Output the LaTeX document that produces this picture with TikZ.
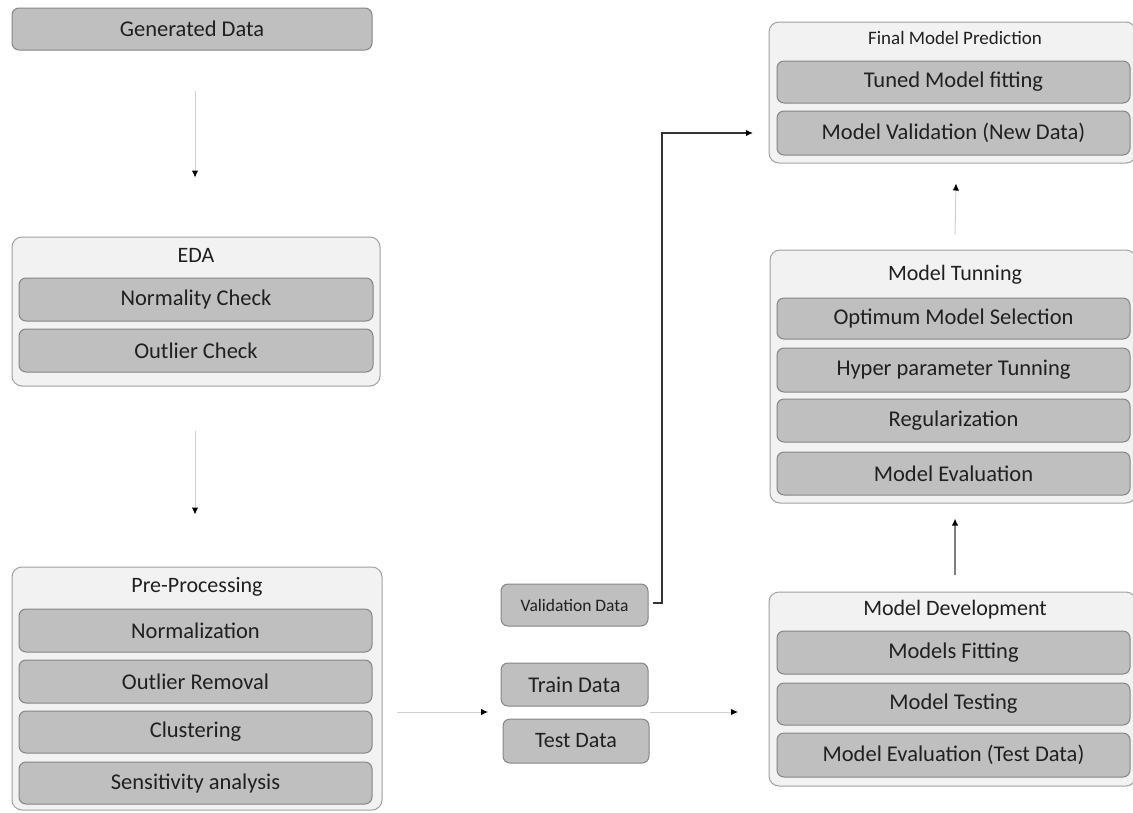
\documentclass[tikz,border=0pt]{standalone}
\usepackage{fontspec}
\setmainfont{Carlito}
\usetikzlibrary{arrows.meta,calc}
\definecolor{panelfill}{HTML}{F2F2F2}
\definecolor{panelline}{HTML}{A0A0A0}
\definecolor{stepfill}{HTML}{BFBFBF}
\definecolor{stepline}{HTML}{858585}
\definecolor{inkgray}{HTML}{202020}
\definecolor{faint}{HTML}{D0D0D0}
\tikzset{
  panel/.style={draw=panelline, fill=panelfill, line width=1pt, rounded corners=10pt, inner sep=0pt},
  stepbox/.style={draw=stepline, fill=stepfill, line width=1pt, rounded corners=7pt, inner sep=0pt,
    text=inkgray, font=\fontsize{22.5}{26}\selectfont},
  title/.style={text=inkgray, font=\fontsize{22}{26}\selectfont, inner sep=0pt},
  tip/.style={-{Latex[length=7pt,width=6.5pt,black]}},
  thinflow/.style={tip, draw=faint, line width=1pt},
  strongflow/.style={tip, draw=black!80, line width=1.4pt},
}
\begin{document}
\begin{tikzpicture}[x=1pt, y=-1pt]
\useasboundingbox (0,0) rectangle (1133,812);

% ---- left column ----
\node[stepbox, minimum width=360pt, minimum height=42pt] (gen) at (192,29) {Generated Data};

\node[panel, minimum width=368pt, minimum height=149pt] (eda) at (196,311.5) {};
\node[title] (edat) at (196,255) {EDA};
\node[stepbox, minimum width=354pt, minimum height=43pt] (eda1) at (196,299.5) {Normality Check};
\node[stepbox, minimum width=354pt, minimum height=43pt] (eda2) at (196,350.5) {Outlier Check};

\node[panel, minimum width=370pt, minimum height=243pt] (pre) at (197,688.5) {};
\node[title] (pret) at (197,587) {Pre-Processing};
\node[stepbox, minimum width=353pt, minimum height=43pt] (pre1) at (195.5,630.5) {Normalization};
\node[stepbox, minimum width=353pt, minimum height=43pt] (pre2) at (195.5,681.5) {Outlier Removal};
\node[stepbox, minimum width=353pt, minimum height=42pt] (pre3) at (195.5,732) {Clustering};
\node[stepbox, minimum width=353pt, minimum height=42pt] (pre4) at (195.5,783) {Sensitivity analysis};

% ---- data split ----
\node[stepbox, minimum width=147pt, minimum height=42pt, font=\fontsize{17.5}{20}\selectfont] (val) at (574.5,605) {Validation Data};
\node[stepbox, minimum width=147pt, minimum height=43pt] (train) at (574.5,684.5) {Train Data};
\node[stepbox, minimum width=146pt, minimum height=44pt, font=\fontsize{22}{26}\selectfont] (test) at (576,741) {Test Data};

% ---- right column ----
\node[panel, minimum width=367pt, minimum height=141pt] (fin) at (952.5,92.5) {};
\node[title, font=\fontsize{19}{23}\selectfont] (fint) at (955,38) {Final Model Prediction};
\node[stepbox, minimum width=353pt, minimum height=42pt] (fin1) at (953.5,82) {Tuned Model fitting};
\node[stepbox, minimum width=353pt, minimum height=44pt] (fin2) at (953.5,133) {Model Validation (New Data)};

\node[panel, minimum width=366pt, minimum height=253pt] (tun) at (953,376.5) {};
\node[title] (tunt) at (955,275) {Model Tunning};
\node[stepbox, minimum width=353pt, minimum height=41pt] (tun1) at (953.5,318.5) {Optimum Model Selection};
\node[stepbox, minimum width=353pt, minimum height=44pt] (tun2) at (953.5,370) {Hyper parameter Tunning};
\node[stepbox, minimum width=353pt, minimum height=43pt] (tun3) at (953.5,420.5) {Regularization};
\node[stepbox, minimum width=353pt, minimum height=43pt] (tun4) at (953.5,473.5) {Model Evaluation};

\node[panel, minimum width=367pt, minimum height=194pt] (dev) at (952.5,689) {};
\node[title] (devt) at (955,610) {Model Development};
\node[stepbox, minimum width=353pt, minimum height=43pt] (dev1) at (953.5,652.5) {Models Fitting};
\node[stepbox, minimum width=353pt, minimum height=42pt] (dev2) at (953.5,704) {Model Testing};
\node[stepbox, minimum width=353pt, minimum height=44pt] (dev3) at (953.5,755) {Model Evaluation (Test Data)};

% ---- connector end points ----
\coordinate (genout) at ($(gen.south)+(3,40)$);
\coordinate (edain) at ($(eda.north)+(-1,-59)$);
\coordinate (edaout) at ($(eda.south)+(-1,44)$);
\coordinate (prein) at ($(pre.north)+(-2,-52)$);
\coordinate (preout) at (397,712);
\coordinate (splitin) at (488,712);
\coordinate (splitout) at (650,712);
\coordinate (devin) at (738,712);
\coordinate (valout) at ($(val.east)+(4,-2)$);
\coordinate (finin) at (753,133);
\coordinate (devout) at ($(dev.north)+(2.5,-17)$);
\coordinate (tunin) at ($(tun.south)+(2,15)$);
\coordinate (tunout) at ($(tun.north)+(2,-15)$);
\coordinate (finout) at ($(fin.south)+(3.5,20)$);

% ---- connectors ----
\draw[thinflow] (genout) -- (edain);
\draw[thinflow] (edaout) -- (prein);
\draw[thinflow] (preout) -- (splitin);
\draw[thinflow] (splitout) -- (devin);
\draw[strongflow] (valout) -- (662,603) |- (finin);
\draw[tip, draw=black!50, line width=1.6pt] (devout) -- (tunin);
\draw[thinflow] (tunout) -- (finout);
\end{tikzpicture}
\end{document}
